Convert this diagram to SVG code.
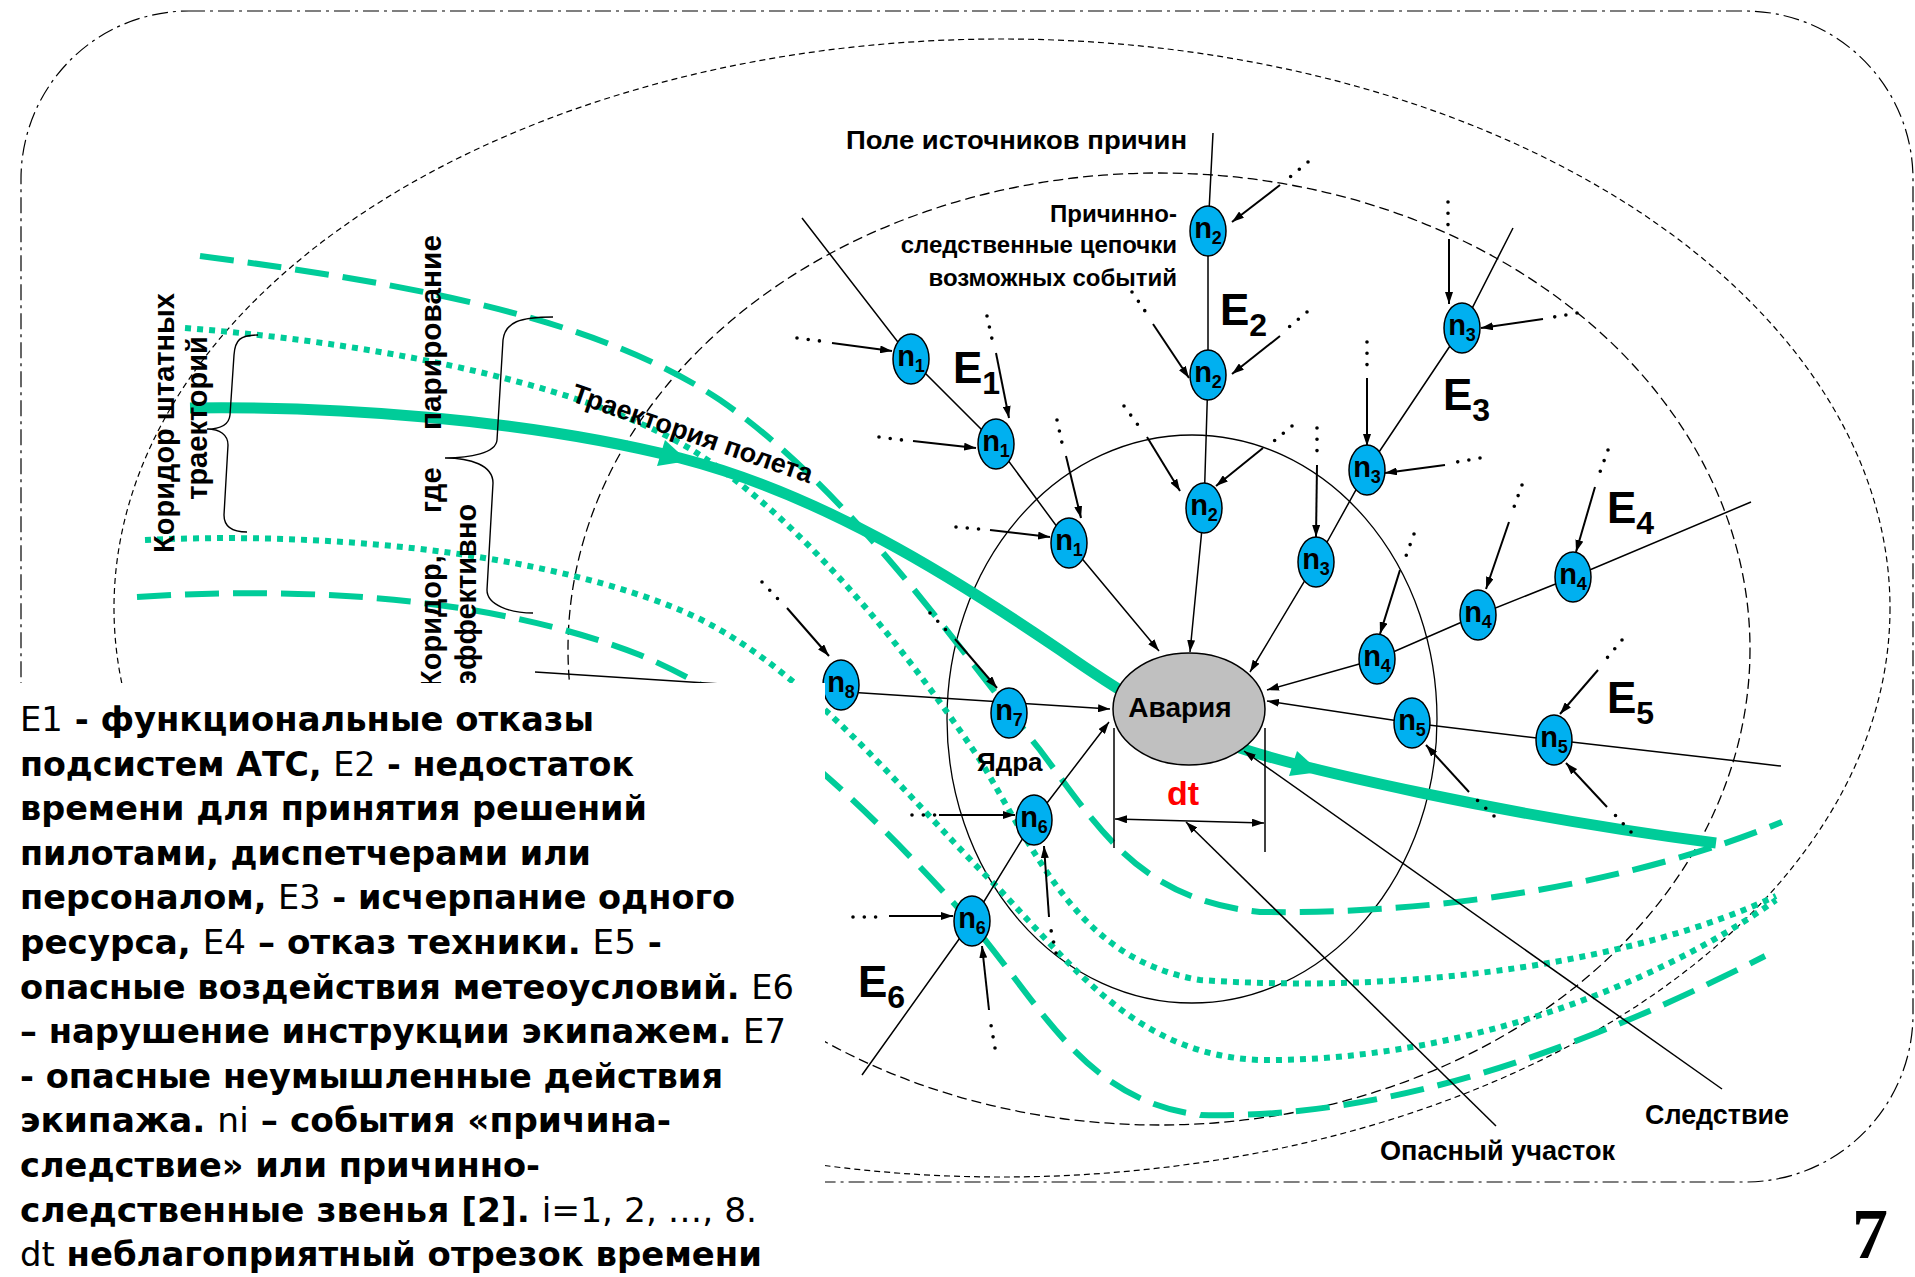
<svg xmlns="http://www.w3.org/2000/svg" width="1915" height="1277" viewBox="0 0 1915 1277">
  <style>
    .frame { fill: none; stroke: #000; stroke-width: 1.2; stroke-dasharray: 16 5 3 5; }
    .fine { fill: none; stroke: #000; stroke-width: 1.2; stroke-dasharray: 6 4; }
    .mid { fill: none; stroke: #000; stroke-width: 1.3; stroke-dasharray: 10 5; }
    .core { fill: none; stroke: #000; stroke-width: 1.3; }
    .dash { fill: none; stroke: #00cc99; stroke-width: 6; stroke-dasharray: 34 14; }
    .dot { fill: none; stroke: #00cc99; stroke-width: 6; stroke-dasharray: 6 6; }
    .traj { fill: none; stroke: #00cc99; stroke-width: 11; }
    .head { fill: #00cc99; }
    .chain { fill: none; stroke: #000; stroke-width: 1.5; }
    .arr { fill: none; stroke: #000; stroke-width: 2; }
    .dots { fill: none; stroke: #000; stroke-width: 3.6; stroke-linecap: round; stroke-dasharray: 0 11.3; }
    .brace { fill: none; stroke: #000; stroke-width: 1.4; }
    .node ellipse { fill: #00b0f0; stroke: #000; stroke-width: 1.5; }
    .nl { font-family: "Liberation Sans", Arial, sans-serif; font-weight: bold; font-size: 29px; text-anchor: middle; fill: #000; }
    .nl tspan { font-size: 18px; }
    .lbl { font-family: "Liberation Sans", Arial, sans-serif; font-weight: bold; fill: #000; }
    .E { font-family: "Liberation Sans", Arial, sans-serif; font-weight: bold; font-size: 44px; fill: #000; }
    .E tspan { font-size: 32px; }
    .note { font-family: "DejaVu Sans", Verdana, sans-serif; font-weight: bold; font-size: 33px; fill: #000; }
    .note .r { font-weight: normal; }
  </style>
  <defs>
    <marker id="ah" viewBox="0 0 12 8" refX="12" refY="4" markerWidth="12" markerHeight="8" markerUnits="userSpaceOnUse" orient="auto">
      <path d="M0,0 L12,4 L0,8 z" fill="#000"/>
    </marker>
    <marker id="ah2" viewBox="0 0 12 8" refX="12" refY="4" markerWidth="12" markerHeight="8" markerUnits="userSpaceOnUse" orient="auto-start-reverse">
      <path d="M0,0 L12,4 L0,8 z" fill="#000"/>
    </marker>
  </defs>

  <rect width="1915" height="1277" fill="#fff"/>

  <!-- zone boundaries -->
  <g id="zones">
    <rect class="frame" x="21" y="11" width="1892" height="1171" rx="168" ry="168"/>
    <ellipse class="fine" cx="1002" cy="608" rx="888" ry="569"/>
    <ellipse class="mid" cx="1159" cy="649" rx="591" ry="476"/>
    <ellipse class="core" cx="1192" cy="719" rx="245" ry="284"/>
  </g>

  <!-- flight corridors -->
  <g id="corridors">
    <path class="dash" d="M200,256 C420,285 600,320 720,400 C850,490 960,650 1040,750 C1100,830 1140,900 1260,912 C1450,915 1640,880 1782,822"/>
    <path class="dash" d="M137,597 C320,585 500,600 640,655 C760,705 860,800 960,910 C1040,1000 1080,1100 1200,1115 C1400,1120 1600,1040 1765,956"/>
    <path class="dot" d="M185,328 C400,345 600,390 700,455 C800,520 900,640 980,760 C1040,860 1080,960 1200,980 C1420,995 1640,960 1776,896"/>
    <path class="dot" d="M145,540 C360,530 560,560 680,610 C800,660 900,790 1000,890 C1080,975 1140,1055 1260,1060 C1450,1062 1650,990 1776,900"/>
  </g>

  <!-- flight trajectory -->
  <g id="trajectory">
    <path class="traj" d="M190,408 C330,406 520,418 680,458 C820,494 950,575 1060,650 C1110,685 1170,725 1240,748 C1300,768 1500,815 1716,843"/>
    <polygon class="head" points="688,461 657,466 665,440"/>
    <polygon class="head" points="1320,772 1289,776 1297,751"/>
  </g>

  <!-- braces -->
  <g id="braces">
    <path class="brace" d="M258,335 C240,335 235,340 234,355 L230,415 C229,425 220,429 207,429 C220,429 228,435 228,445 L224,515 C224,528 235,532 247,532"/>
    <path class="brace" d="M553,317 C520,317 505,322 503,340 L497,440 C496,453 470,458 445,458 C470,458 493,465 493,483 L487,590 C487,605 510,613 533,613"/>
  </g>

  <!-- cause-effect connectors -->
  <g id="connectors">
    <path class="chain" marker-end="url(#ah)" d="M802,218 L911,359 L996,444 L1069,543 L1159,651"/>
    <path class="chain" marker-end="url(#ah)" d="M1213,133 L1208,231 L1208,375 L1204,508 L1190,652"/>
    <path class="chain" marker-end="url(#ah)" d="M1513,228 L1462,328 L1367,470 L1316,562 L1250,672"/>
    <path class="chain" marker-end="url(#ah)" d="M1751,502 L1573,577 L1478,615 L1377,659 L1267,690"/>
    <path class="chain" marker-end="url(#ah)" d="M1781,766 L1554,740 L1412,723 L1267,701"/>
    <path class="chain" marker-end="url(#ah)" d="M862,1075 L972,921 L1034,820 L1109,722"/>
    <path class="chain" marker-end="url(#ah)" d="M535,672 L1110,709"/>

    <path class="dots" d="M797,338 L820,341"/><path class="arr" marker-end="url(#ah)" d="M832,343 L892,351"/>
    <path class="dots" d="M879,437 L902,440"/><path class="arr" marker-end="url(#ah)" d="M913,441 L976,448"/>
    <path class="dots" d="M987,316 L992,339"/><path class="arr" marker-end="url(#ah)" d="M996,353 L1009,418"/>
    <path class="dots" d="M1057,420 L1062,443"/><path class="arr" marker-end="url(#ah)" d="M1066,456 L1081,518"/>
    <path class="dots" d="M956,527 L979,529"/><path class="arr" marker-end="url(#ah)" d="M990,530 L1050,537"/>
    <path class="dots" d="M1308,162 L1290,177"/><path class="arr" marker-end="url(#ah)" d="M1280,185 L1232,222"/>
    <path class="dots" d="M1132,292 L1145,311"/><path class="arr" marker-end="url(#ah)" d="M1153,324 L1189,378"/>
    <path class="dots" d="M1307,312 L1289,327"/><path class="arr" marker-end="url(#ah)" d="M1280,336 L1232,374"/>
    <path class="dots" d="M1124,406 L1138,425"/><path class="arr" marker-end="url(#ah)" d="M1147,437 L1180,491"/>
    <path class="dots" d="M1292,426 L1274,441"/><path class="arr" marker-end="url(#ah)" d="M1263,448 L1216,486"/>
    <path class="dots" d="M1448,202 L1448,225"/><path class="arr" marker-end="url(#ah)" d="M1449,239 L1449,304"/>
    <path class="dots" d="M1577,313 L1554,317"/><path class="arr" marker-end="url(#ah)" d="M1543,319 L1481,328"/>
    <path class="dots" d="M1367,342 L1367,365"/><path class="arr" marker-end="url(#ah)" d="M1367,378 L1367,446"/>
    <path class="dots" d="M1480,458 L1457,462"/><path class="arr" marker-end="url(#ah)" d="M1445,465 L1385,473"/>
    <path class="dots" d="M1317,428 L1317,451"/><path class="arr" marker-end="url(#ah)" d="M1317,465 L1316,537"/>
    <path class="dots" d="M1414,534 L1406,556"/><path class="arr" marker-end="url(#ah)" d="M1400,570 L1380,634"/>
    <path class="dots" d="M1522,485 L1514,507"/><path class="arr" marker-end="url(#ah)" d="M1509,522 L1486,589"/>
    <path class="dots" d="M1608,450 L1600,472"/><path class="arr" marker-end="url(#ah)" d="M1595,487 L1576,552"/>
    <path class="dots" d="M1494,816 L1477,800"/><path class="arr" marker-end="url(#ah)" d="M1469,792 L1426,745"/>
    <path class="dots" d="M1622,640 L1607,658"/><path class="arr" marker-end="url(#ah)" d="M1598,670 L1560,714"/>
    <path class="dots" d="M1631,832 L1615,815"/><path class="arr" marker-end="url(#ah)" d="M1607,807 L1566,763"/>
    <path class="dots" d="M762,582 L778,599"/><path class="arr" marker-end="url(#ah)" d="M787,608 L829,656"/>
    <path class="dots" d="M930,613 L946,630"/><path class="arr" marker-end="url(#ah)" d="M955,639 L997,688"/>
    <path class="dots" d="M912,815 L935,815"/><path class="arr" marker-end="url(#ah)" d="M939,815 L1015,815"/>
    <path class="dots" d="M1056,953 L1051,930"/><path class="arr" marker-end="url(#ah)" d="M1049,917 L1044,846"/>
    <path class="dots" d="M853,917 L876,917"/><path class="arr" marker-end="url(#ah)" d="M889,916 L953,916"/>
    <path class="dots" d="M995,1048 L991,1025"/><path class="arr" marker-end="url(#ah)" d="M989,1010 L982,946"/>

    <path class="chain" d="M1114,728 L1114,848"/>
    <path class="chain" d="M1265,728 L1265,852"/>
    <path class="chain" marker-start="url(#ah2)" marker-end="url(#ah2)" d="M1115,819 L1264,823"/>
    <path class="chain" marker-end="url(#ah)" d="M1496,1126 L1186,822"/>
    <path class="chain" marker-end="url(#ah)" d="M1722,1089 L1244,751"/>
  </g>

  <!-- events -->
  <g id="n1a" class="node"><ellipse cx="911" cy="359" rx="18" ry="25"/><text class="nl" x="911" y="366">n<tspan dy="6">1</tspan></text></g>
  <g id="n1b" class="node"><ellipse cx="996" cy="444" rx="18" ry="25"/><text class="nl" x="996" y="451">n<tspan dy="6">1</tspan></text></g>
  <g id="n1c" class="node"><ellipse cx="1069" cy="543" rx="18" ry="25"/><text class="nl" x="1069" y="550">n<tspan dy="6">1</tspan></text></g>
  <g id="n2a" class="node"><ellipse cx="1208" cy="231" rx="18" ry="25"/><text class="nl" x="1208" y="238">n<tspan dy="6">2</tspan></text></g>
  <g id="n2b" class="node"><ellipse cx="1208" cy="375" rx="18" ry="25"/><text class="nl" x="1208" y="382">n<tspan dy="6">2</tspan></text></g>
  <g id="n2c" class="node"><ellipse cx="1204" cy="508" rx="18" ry="25"/><text class="nl" x="1204" y="515">n<tspan dy="6">2</tspan></text></g>
  <g id="n3a" class="node"><ellipse cx="1462" cy="328" rx="18" ry="25"/><text class="nl" x="1462" y="335">n<tspan dy="6">3</tspan></text></g>
  <g id="n3b" class="node"><ellipse cx="1367" cy="470" rx="18" ry="25"/><text class="nl" x="1367" y="477">n<tspan dy="6">3</tspan></text></g>
  <g id="n3c" class="node"><ellipse cx="1316" cy="562" rx="18" ry="25"/><text class="nl" x="1316" y="569">n<tspan dy="6">3</tspan></text></g>
  <g id="n4a" class="node"><ellipse cx="1573" cy="577" rx="18" ry="25"/><text class="nl" x="1573" y="584">n<tspan dy="6">4</tspan></text></g>
  <g id="n4b" class="node"><ellipse cx="1478" cy="615" rx="18" ry="25"/><text class="nl" x="1478" y="622">n<tspan dy="6">4</tspan></text></g>
  <g id="n4c" class="node"><ellipse cx="1377" cy="659" rx="18" ry="25"/><text class="nl" x="1377" y="666">n<tspan dy="6">4</tspan></text></g>
  <g id="n5a" class="node"><ellipse cx="1412" cy="723" rx="18" ry="25"/><text class="nl" x="1412" y="730">n<tspan dy="6">5</tspan></text></g>
  <g id="n5b" class="node"><ellipse cx="1554" cy="740" rx="18" ry="25"/><text class="nl" x="1554" y="747">n<tspan dy="6">5</tspan></text></g>
  <g id="n6a" class="node"><ellipse cx="1034" cy="820" rx="18" ry="25"/><text class="nl" x="1034" y="827">n<tspan dy="6">6</tspan></text></g>
  <g id="n6b" class="node"><ellipse cx="972" cy="921" rx="18" ry="25"/><text class="nl" x="972" y="928">n<tspan dy="6">6</tspan></text></g>
  <g id="n7" class="node"><ellipse cx="1009" cy="713" rx="18" ry="25"/><text class="nl" x="1009" y="720">n<tspan dy="6">7</tspan></text></g>
  <g id="n8" class="node"><ellipse cx="841" cy="685" rx="18" ry="25"/><text class="nl" x="841" y="692">n<tspan dy="6">8</tspan></text></g>

  <g id="accident">
    <ellipse cx="1189" cy="709" rx="76" ry="56" fill="#c0c0c0" stroke="#000" stroke-width="1.5"/>
    <text class="lbl" x="1180" y="717" font-size="28" text-anchor="middle">Авария</text>
  </g>

  <!-- labels -->
  <g id="labels">
    <text class="lbl" x="846" y="149" font-size="26" textLength="341" lengthAdjust="spacingAndGlyphs">Поле источников причин</text>
    <text class="lbl" x="1177" y="222" font-size="24" text-anchor="end">Причинно-</text>
    <text class="lbl" x="1177" y="253" font-size="24" text-anchor="end">следственные цепочки</text>
    <text class="lbl" x="1177" y="286" font-size="24" text-anchor="end">возможных событий</text>
    <text class="E" x="953" y="383">E<tspan dy="11">1</tspan></text>
    <text class="E" x="1220" y="325">E<tspan dy="11">2</tspan></text>
    <text class="E" x="1443" y="410">E<tspan dy="11">3</tspan></text>
    <text class="E" x="1607" y="523">E<tspan dy="11">4</tspan></text>
    <text class="E" x="1607" y="713">E<tspan dy="11">5</tspan></text>
    <text class="E" x="858" y="997">E<tspan dy="11">6</tspan></text>
    <text class="lbl" x="977" y="771" font-size="26">Ядра</text>
    <text class="lbl" x="1167" y="805" font-size="34" fill="#ff0000" style="fill:#ff0000">dt</text>
    <text class="lbl" x="1645" y="1124" font-size="28" textLength="144" lengthAdjust="spacingAndGlyphs">Следствие</text>
    <text class="lbl" x="1380" y="1160" font-size="27" textLength="235" lengthAdjust="spacingAndGlyphs">Опасный участок</text>
    <text class="lbl" transform="translate(570,401) rotate(19)" font-size="27">Траектория полета</text>
    <text class="lbl" transform="rotate(-90)" x="-423" y="174" font-size="29" text-anchor="middle">Коридор штатных</text>
    <text class="lbl" transform="rotate(-90)" x="-418" y="207" font-size="29" text-anchor="middle">траекторий</text>
    <text class="lbl" transform="rotate(-90)" x="-688" y="441" font-size="29">Коридор,</text>
    <text class="lbl" transform="rotate(-90)" x="-513" y="441" font-size="29">где</text>
    <text class="lbl" transform="rotate(-90)" x="-430" y="441" font-size="29" textLength="195" lengthAdjust="spacingAndGlyphs">парирование</text>
    <text class="lbl" transform="rotate(-90)" x="-686" y="476" font-size="29">эффективно</text>
  </g>

  <!-- legend panel -->
  <g id="legend">
    <rect x="0" y="683" width="825" height="594" fill="#fff"/>
    <text class="note" x="20" y="731" textLength="574" lengthAdjust="spacingAndGlyphs"><tspan class="r">E1</tspan> - функциональные отказы</text>
    <text class="note" x="20" y="775.6" textLength="614" lengthAdjust="spacingAndGlyphs">подсистем АТС, <tspan class="r">E2</tspan> - недостаток</text>
    <text class="note" x="20" y="820.2" textLength="627" lengthAdjust="spacingAndGlyphs">времени для принятия решений</text>
    <text class="note" x="20" y="864.8" textLength="571" lengthAdjust="spacingAndGlyphs">пилотами, диспетчерами или</text>
    <text class="note" x="20" y="909.4" textLength="715" lengthAdjust="spacingAndGlyphs">персоналом, <tspan class="r">E3</tspan> - исчерпание одного</text>
    <text class="note" x="20" y="954" textLength="642" lengthAdjust="spacingAndGlyphs">ресурса, <tspan class="r">E4</tspan> – отказ техники. <tspan class="r">E5</tspan> -</text>
    <text class="note" x="20" y="998.6" textLength="774" lengthAdjust="spacingAndGlyphs">опасные воздействия метеоусловий. <tspan class="r">E6</tspan></text>
    <text class="note" x="20" y="1043.2" textLength="766" lengthAdjust="spacingAndGlyphs">– нарушение инструкции экипажем. <tspan class="r">E7</tspan></text>
    <text class="note" x="20" y="1087.8" textLength="703" lengthAdjust="spacingAndGlyphs">- опасные неумышленные действия</text>
    <text class="note" x="20" y="1132.4" textLength="651" lengthAdjust="spacingAndGlyphs">экипажа. <tspan class="r">ni</tspan> – события «причина-</text>
    <text class="note" x="20" y="1177" textLength="520" lengthAdjust="spacingAndGlyphs">следствие» или причинно-</text>
    <text class="note" x="20" y="1221.6" textLength="737" lengthAdjust="spacingAndGlyphs">следственные звенья [2]. <tspan class="r">i=1, 2, …, 8.</tspan></text>
    <text class="note" x="20" y="1266.2" textLength="742" lengthAdjust="spacingAndGlyphs"><tspan class="r">dt</tspan> неблагоприятный отрезок времени</text>
  </g>

  <text x="1852" y="1258" font-family="'Liberation Serif', 'Times New Roman', serif" font-weight="bold" font-size="72" fill="#000">7</text>
</svg>
